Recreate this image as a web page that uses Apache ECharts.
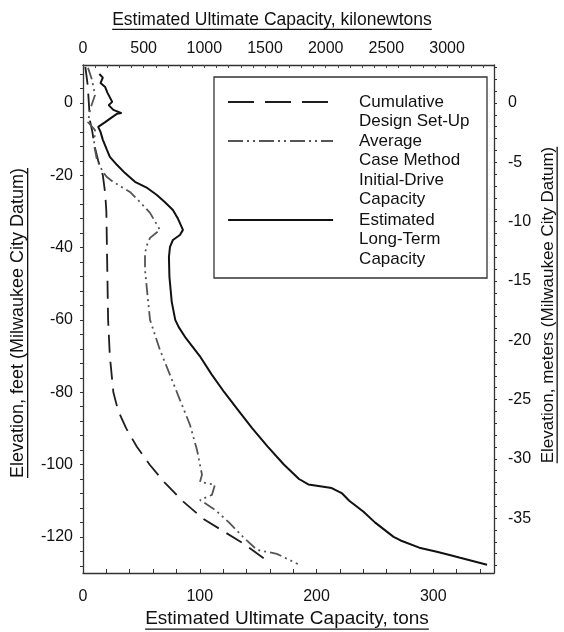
<!DOCTYPE html>
<html>
<head>
<meta charset="utf-8">
<script src="https://cdn.jsdelivr.net/npm/echarts@6/dist/echarts.min.js"></script>
<style>
html, body { margin: 0; padding: 0; background: #fff; }
#chart { width: 564px; height: 632px; }
</style>
</head>
<body>
<div id="chart"></div>
<script>
// Pile capacity profiles: elevation in feet (Milwaukee City Datum), capacity in tons
const setUpElev = [10, 5, 0, -5, -8, -12, -16, -20, -25, -30, -40, -50, -60, -70, -80, -85, -90, -95, -100, -105, -110, -115, -118, -122.2, -127.2];
const setUpTons = [2, 4, 5, 6, 8, 10, 13, 17, 19, 20, 20.5, 21, 21.5, 23, 26, 30, 37, 46, 57, 70, 85, 103, 118, 139, 160];

const initialElev = [9.7, 6.4, 2.2, -1.9, -5.3, -7.5, -11.6, -15.8, -19.1, -20.5, -21.8, -24.6, -27.4, -30.4, -35.1, -37.3, -39.3, -41.5, -46.2, -51.7, -60, -68.3, -75.2, -82.1, -89, -95.9, -100.1, -102.8, -104.8, -105.6, -108.4, -109.8, -112.5, -116, -120, -123.6, -124.7, -127.5];
const initialTons = [4.3, 7.7, 10.3, 6, 4.3, 10.3, 9.4, 12, 17.1, 20.5, 25.7, 40.2, 48.8, 57.4, 65.9, 57.4, 54.8, 53.1, 53.1, 54.8, 57.4, 65.9, 74.5, 83, 91.6, 97.6, 100.2, 101.9, 100.2, 113, 110.4, 100.2, 113, 125, 137, 149, 166, 184];

const longTermElev = [8, 7, 5.5, 4.4, 2.8, 0.3, -0.6, -1.9, -2.8, -3.0, -3.9, -5.3, -6.6, -8.0, -10.2, -13.0, -14.9, -17.1, -19.4, -21.8, -23.5, -25.4, -27.4, -29.6, -31.8, -35.1, -36.5, -37.9, -39.8, -42.6, -48, -55, -60, -62, -65, -70, -75, -80, -85, -90, -95, -100, -104, -105.5, -106.5, -108, -110, -113, -116, -120, -121, -123, -124.1, -125, -125.8, -127.7];
const longTermTons = [14, 17, 15, 19, 21, 25, 22, 26, 33, 29, 25, 19, 13, 15, 17, 20.5, 23, 29, 36, 44.5, 55, 63, 70, 77, 81, 85.6, 83, 77, 74.5, 73.6, 74, 76, 79, 82, 88, 100, 110, 121, 133, 145, 158, 172, 185, 193, 213, 222, 228, 240, 250, 266, 272, 288, 303, 314, 323, 346];

// Axis ranges and tick positions
const feetRange = [-130, 10.5];
const tonsRange = [0, 352];
const knMax = 3387;
const feetLabels = [0, -20, -40, -60, -80, -100, -120];
const feetTicks = [8, 4, 0, -4, -8, -12, -16, -20, -24, -28, -32, -36, -40, -44, -48, -52, -56, -60, -64, -68, -72, -76, -80, -84, -88, -92, -96, -100, -104, -108, -112, -116, -120, -124, -128];
const meterLabels = [0, -5, -10, -15, -20, -25, -30, -35];
const meterTicks = [3, 2, 1, 0, -1, -2, -3, -4, -5, -6, -7, -8, -9, -10, -11, -12, -13, -14, -15, -16, -17, -18, -19, -20, -21, -22, -23, -24, -25, -26, -27, -28, -29, -30, -31, -32, -33, -34, -35, -36, -37, -38, -39];
const tonLabels = [0, 100, 200, 300];
const tonTicks = [0, 20, 40, 60, 80, 100, 120, 140, 160, 180, 200, 220, 240, 260, 280, 300, 320, 340];
const knLabels = [0, 500, 1000, 1500, 2000, 2500, 3000];
const knTicks = [0, 100, 200, 300, 400, 500, 600, 700, 800, 900, 1000, 1100, 1200, 1300, 1400, 1500, 1600, 1700, 1800, 1900, 2000, 2100, 2200, 2300, 2400, 2500, 2600, 2700, 2800, 2900, 3000, 3100, 3200, 3300];

const seriesNames = ['Cumulative Design Set-Up', 'Average Case Method Initial-Drive Capacity', 'Estimated Long-Term Capacity'];
const legendLines = [
  ['Cumulative', 'Design Set-Up'],
  ['Average', 'Case Method', 'Initial-Drive', 'Capacity'],
  ['Estimated', 'Long-Term', 'Capacity']
];

const FONT = 'Liberation Sans, Arial, sans-serif';
const INK = '#111';
const FT_TO_M = 0.3048;

const pairs = (xs, ys) => xs.map((x, i) => [x, ys[i]]);

const chart = echarts.init(document.getElementById('chart'), null, { renderer: 'canvas' });

// text width for the underlined axis titles
const measureCtx = document.createElement('canvas').getContext('2d');
function textWidth(str, size) {
  measureCtx.font = size + 'px ' + FONT;
  return measureCtx.measureText(str).width;
}
function underlinedTitle(str, size, cx, cy, rotation) {
  const w = textWidth(str, size);
  return {
    type: 'group',
    x: cx, y: cy, rotation: rotation || 0,
    children: [
      { type: 'text', x: -w / 2, y: 0,
        style: { text: str, font: size + 'px ' + FONT, fill: INK, verticalAlign: 'middle' } },
      { type: 'rect', shape: { x: -w / 2, y: size * 0.5, width: w, height: 1.3 }, style: { fill: INK } }
    ]
  };
}

// Each legend entry keeps its key line level with the first text line:
// blank lines above the text balance the lines below it.
const LH = 19.5;
function legendBlock(idx, cy, dash, width, color) {
  const lines = legendLines[idx];
  const n = lines.length;
  const text = new Array(n - 1).fill('\u00a0').concat(lines).join('\n');
  return {
    data: [seriesNames[idx]],
    left: 227,
    top: cy - (2 * n - 1) * LH / 2,
    padding: 0,
    itemWidth: 105,
    itemHeight: 10,
    itemGap: 0,
    selectedMode: false,
    formatter: () => text,
    itemStyle: { opacity: 0 },
    textStyle: { fontFamily: FONT, fontSize: 17, color: INK, lineHeight: LH, padding: [0, 0, 0, 21] },
    lineStyle: { type: dash, width: width, color: color, opacity: 1 }
  };
}

const axisLine = { show: true, onZero: false, lineStyle: { color: '#333', width: 1.3 } };
const labelStyle = { fontFamily: FONT, fontSize: 16, color: INK };

chart.setOption({
  animation: false,
  backgroundColor: '#fff',
  grid: { left: 83, right: 70, top: 65, bottom: 59, containLabel: false },
  xAxis: [
    { type: 'value', position: 'bottom', min: tonsRange[0], max: tonsRange[1],
      axisLine, splitLine: { show: false },
      axisTick: { show: true, inside: true, length: 4, customValues: tonTicks, lineStyle: { color: '#333' } },
      axisLabel: { ...labelStyle, margin: 16, customValues: tonLabels, formatter: v => String(v) } },
    { type: 'value', position: 'top', min: 0, max: knMax,
      axisLine, splitLine: { show: false },
      axisTick: { show: true, inside: true, length: 3, customValues: knTicks, lineStyle: { color: '#444' } },
      axisLabel: { ...labelStyle, margin: 8, customValues: knLabels, formatter: v => String(v) } }
  ],
  yAxis: [
    { type: 'value', position: 'left', min: feetRange[0], max: feetRange[1],
      axisLine, splitLine: { show: false },
      axisTick: { show: true, inside: false, length: 3, customValues: feetTicks, lineStyle: { color: '#333' } },
      axisLabel: { ...labelStyle, margin: 10, customValues: feetLabels, formatter: v => String(v) } },
    { type: 'value', position: 'right', min: feetRange[0] * FT_TO_M, max: feetRange[1] * FT_TO_M,
      axisLine, splitLine: { show: false },
      axisTick: { show: true, inside: false, length: 3, customValues: meterTicks, lineStyle: { color: '#333' } },
      axisLabel: { ...labelStyle, margin: 14, customValues: meterLabels, formatter: v => String(v) } }
  ],
  legend: [
    legendBlock(0, 102, [26, 11], 2, '#1e1e1e'),
    legendBlock(1, 141, [15, 4, 2, 4, 2, 4], 2, '#555'),
    legendBlock(2, 220, 'solid', 2.2, '#111')
  ],
  series: [
    { name: seriesNames[0], type: 'line', xAxisIndex: 0, yAxisIndex: 0, symbol: 'none',
      data: pairs(setUpTons, setUpElev),
      itemStyle: { color: '#1e1e1e' },
      lineStyle: { color: '#1e1e1e', width: 1.8, type: [18, 9] } },
    { name: seriesNames[1], type: 'line', xAxisIndex: 0, yAxisIndex: 0, symbol: 'none',
      data: pairs(initialTons, initialElev),
      itemStyle: { color: '#555' },
      lineStyle: { color: '#555', width: 1.8, type: [12, 4, 2, 4, 2, 4] } },
    { name: seriesNames[2], type: 'line', xAxisIndex: 0, yAxisIndex: 0, symbol: 'none',
      data: pairs(longTermTons, longTermElev),
      itemStyle: { color: '#111' },
      lineStyle: { color: '#111', width: 2 } }
  ],
  graphic: [
    { type: 'rect', shape: { x: 214, y: 77, width: 273, height: 201 },
      style: { fill: 'none', stroke: '#333', lineWidth: 1.3 }, z: 5 },
    underlinedTitle('Estimated Ultimate Capacity, kilonewtons', 17.5, 272, 20),
    underlinedTitle('Estimated Ultimate Capacity, tons', 19, 287, 619),
    underlinedTitle('Elevation, feet (Milwaukee City Datum)', 18, 18, 323, Math.PI / 2),
    underlinedTitle('Elevation, meters (Milwaukee City Datum)', 17, 548, 305, Math.PI / 2)
  ]
});
</script>
</body>
</html>
